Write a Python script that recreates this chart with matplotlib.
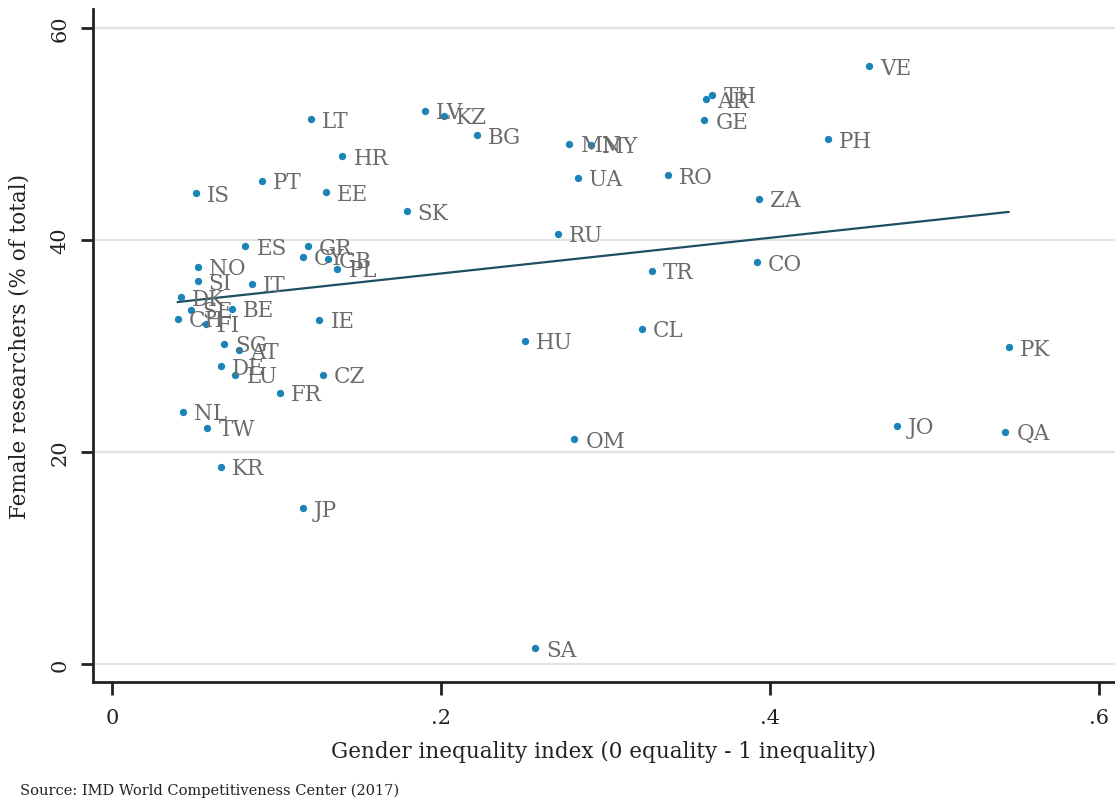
import numpy as np
import matplotlib.pyplot as plt

# Female researchers vs gender inequality index, by country
countries = ['VE', 'TH', 'AR', 'GE', 'PH', 'LT', 'LV', 'KZ', 'BG', 'HR',
             'MN', 'MY', 'UA', 'RO', 'IS', 'PT', 'EE', 'SK', 'ZA', 'RU',
             'ES', 'GR', 'CY', 'GB', 'PL', 'NO', 'SI', 'IT', 'DK', 'SE',
             'BE', 'CH', 'FI', 'IE', 'SG', 'AT', 'DE', 'LU', 'CZ', 'FR',
             'NL', 'TW', 'KR', 'JP', 'SA', 'OM', 'HU', 'CL', 'TR', 'CO',
             'PK', 'JO', 'QA']
gii = [0.460, 0.365, 0.361, 0.360, 0.435, 0.121, 0.190, 0.202, 0.222, 0.140,
       0.278, 0.291, 0.283, 0.338, 0.051, 0.091, 0.130, 0.179, 0.393, 0.271,
       0.081, 0.119, 0.116, 0.131, 0.137, 0.052, 0.052, 0.085, 0.042, 0.048,
       0.073, 0.040, 0.057, 0.126, 0.068, 0.077, 0.066, 0.075, 0.128, 0.102,
       0.043, 0.058, 0.066, 0.116, 0.257, 0.281, 0.251, 0.322, 0.328, 0.392,
       0.545, 0.477, 0.543]
female_res = [56.4, 53.7, 53.3, 51.3, 49.5, 51.4, 52.2, 51.7, 49.9, 47.9,
              49.1, 49.0, 45.9, 46.1, 44.4, 45.6, 44.5, 42.7, 43.9, 40.6,
              39.4, 39.4, 38.4, 38.2, 37.3, 37.5, 36.1, 35.9, 34.6, 33.4,
              33.5, 32.6, 32.1, 32.5, 30.2, 29.6, 28.1, 27.3, 27.3, 25.6,
              23.8, 22.3, 18.6, 14.7, 1.5, 21.2, 30.5, 31.6, 37.1, 37.9,
              29.9, 22.5, 21.9]

x = np.array(gii)
y = np.array(female_res)

plt.rcParams['font.family'] = ['DejaVu Serif']

fig = plt.figure(figsize=(11.15, 8.03), dpi=100)
ax = fig.add_axes([0.0834, 0.1494, 0.9166, 0.8381])

ax.set_xlim(-0.0116, 0.6097)
ax.set_ylim(-1.7, 61.8)

# grid lines at the major y ticks
for g in [0, 20, 40, 60]:
    ax.axhline(g, color='#e3e3e3', lw=1.6, zorder=0)

ax.scatter(x, y, s=28, color='#1a84b8', zorder=3, linewidths=0)
for name, xi, yi in zip(countries, x, y):
    ax.annotate(name, (xi, yi), xytext=(8, -1), textcoords='offset points',
                ha='left', va='center', fontsize=15.5, color='#6b6b6b', zorder=4)

# linear fit
b, a = np.polyfit(x, y, 1)
xs = np.array([x.min(), x.max()])
ax.plot(xs, a + b * xs, color='#1f4f63', lw=1.6, zorder=2)

ax.set_xticks([0, 0.2, 0.4, 0.6])
ax.set_xticklabels(['0', '.2', '.4', '.6'])
ax.set_yticks([0, 20, 40, 60])
ax.set_yticklabels(['0', '20', '40', '60'], rotation=90, va='center')
ax.tick_params(axis='both', length=9, width=2, labelsize=15, color='#222222',
               labelcolor='#222222')
ax.tick_params(axis='x', pad=10)
ax.tick_params(axis='y', pad=8)

for side in ['top', 'right']:
    ax.spines[side].set_visible(False)
for side in ['left', 'bottom']:
    ax.spines[side].set_linewidth(2)
    ax.spines[side].set_color('#222222')

ax.set_xlabel('Gender inequality index (0 equality - 1 inequality)', fontsize=15.5,
              color='#222222', labelpad=9)
ax.set_ylabel('Female researchers (% of total)', fontsize=15.5, color='#222222',
              labelpad=14)

fig.text(0.018, 0.01, 'Source: IMD World Competitiveness Center (2017)',
         fontsize=10.5, color='#222222')

fig.savefig('out.png', dpi=100)
